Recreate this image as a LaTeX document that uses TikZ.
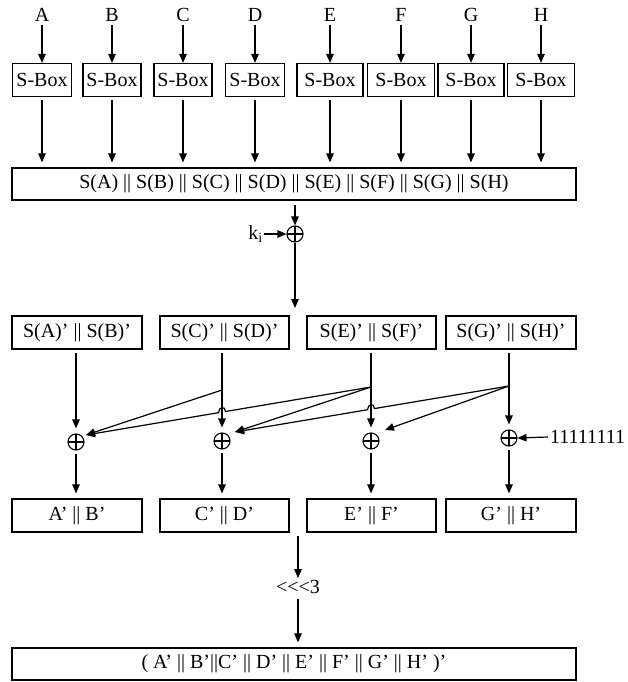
\documentclass[tikz,border=0pt]{standalone}
\usepackage{fontspec}
\setmainfont{Liberation Serif}
\usetikzlibrary{arrows.meta, calc}
\tikzset{
  flow/.style={draw, line width=1.2pt, -{Triangle[length=9pt, width=7.5pt]}},
  % Arrow that stops just short of its target
  flowgap/.style={flow, shorten >=5pt, shorten <=3pt},
  box/.style={draw, line width=1.2pt, inner sep=0pt, minimum height=33pt},
  letter/.style={inner sep=3pt},
  xor/.style={circle, draw, line width=1.1pt, minimum size=16pt, inner sep=0pt,
    path picture={\draw[line width=1.1pt]
      (path picture bounding box.north) -- (path picture bounding box.south)
      (path picture bounding box.west) -- (path picture bounding box.east);}}
}

\begin{document}
\begin{tikzpicture}[x=1pt, y=-1pt, font=\fontsize{20}{24}\selectfont]
  \useasboundingbox (0,0) rectangle (627,682);

  % ---- Concatenated S-box output ------------------------------------------
  \node[box, minimum width=564pt, minimum height=32pt] (Sall) at (294,184)
        {S(A) || S(B) || S(C) || S(D) || S(E) || S(F) || S(G) || S(H)};

  % ---- Inputs and S-boxes -------------------------------------------------
  \foreach \l/\cx/\w in {A/42/59, B/112/58, C/183/58, D/255/59,
                         E/330/66, F/401/67, G/471/66, H/541/67} {
    \node[letter] (L\l) at (\cx,15) {\l};
    \node[box, minimum width=\w pt] (S\l) at (\cx,80) {S-Box};
    \draw[flow] (L\l) -- (S\l);
    \draw[flowgap] (S\l) -- (S\l |- Sall.north);
  }

  % ---- Round key ----------------------------------------------------------
  \node[xor] (Xk) at (295,234) {};
  \node[anchor=east, inner sep=1pt] (ki) at (264,234) {k\textsubscript{i}};
  \draw[flow, shorten <=4pt] (Xk |- Sall.south) -- (Xk);
  \draw[flow] (ki.east) -- (Xk.west);
  \coordinate (split) at (295,308);
  \draw[flow] (Xk) -- (split);

  % ---- Pair boxes ---------------------------------------------------------
  \node[box, minimum width=130pt] (P1) at (77,332.5)    {S(A)’ || S(B)’};
  \node[box, minimum width=129pt] (P2) at (224.5,332.5) {S(C)’ || S(D)’};
  \node[box, minimum width=129pt] (P3) at (371.5,332.5) {S(E)’ || S(F)’};
  \node[box, minimum width=130pt] (P4) at (511,332.5)   {S(G)’ || S(H)’};

  % ---- XOR stage ----------------------------------------------------------
  \node[xor] (X1) at (76,442)  {};
  \node[xor] (X2) at (222,441) {};
  \node[xor] (X3) at (371,441) {};
  \node[xor] (X4) at (509,438) {};
  \draw[flowgap] (X1 |- P1.south) -- (X1);
  \draw[flowgap] (X2 |- P2.south) -- (X2);
  \draw[flowgap] (X3 |- P3.south) -- (X3);
  \draw[flowgap] (X4 |- P4.south) -- (X4);

  % ---- Fan-out junctions --------------------------------------------------
  \coordinate (CDjoin) at (222,390);
  \coordinate (EFjoin) at (371,387);
  \coordinate (GHjoin) at (509,386);
  \coordinate (in1) at (86,435);
  \coordinate (in2) at (235,432);
  \coordinate (in3) at (385,430);
  \draw[flow] (CDjoin) -- (in1);
  \draw[flow] (EFjoin) -- (in2);
  \draw[flow] (GHjoin) -- (in3);

  % long branches hop over the vertical lines
  \coordinate (hop1) at (intersection of EFjoin--in1 and X2--CDjoin);
  \coordinate (hop2) at (intersection of GHjoin--in2 and X3--EFjoin);
  \draw[flow] (EFjoin) -- ($(hop1)!3.5pt!(EFjoin)$)
        .. controls +(0,-6) and +(0,-6) .. ($(hop1)!3.5pt!(in1)$) -- (in1);
  \draw[flow] (GHjoin) -- ($(hop2)!3.5pt!(GHjoin)$)
        .. controls +(0,-6) and +(0,-6) .. ($(hop2)!3.5pt!(in2)$) -- (in2);

  % ---- Constant into the last XOR ----------------------------------------
  \node[anchor=west, inner sep=2pt] (ones) at (548,437) {11111111};
  \draw[flow] (ones.west) -- (X4.east);

  % ---- Outputs ------------------------------------------------------------
  \node[box, minimum width=130pt] (Q1) at (77,515.5)    {A’ || B’};
  \node[box, minimum width=129pt] (Q2) at (224.5,515.5) {C’ || D’};
  \node[box, minimum width=129pt] (Q3) at (371.5,515.5) {E’ || F’};
  \node[box, minimum width=130pt] (Q4) at (511,515.5)   {G’ || H’};
  \draw[flowgap] (X1) -- (X1 |- Q1.north);
  \draw[flowgap] (X2) -- (X2 |- Q2.north);
  \draw[flowgap] (X3) -- (X3 |- Q3.north);
  \draw[flowgap] (X4) -- (X4 |- Q4.north);

  % ---- Rotation and final result ------------------------------------------
  \coordinate (merge) at (298,536);
  \node[inner sep=2pt] (rot) at (298,587) {<\kern0pt<\kern0pt<3};
  \node[box, minimum width=564pt, minimum height=32pt] (Fin) at (294,664)
        {( A’ || B’||C’ || D’ || E’ || F’ || G’ || H’ )’};
  \draw[flow] (merge) -- (rot);
  \draw[flowgap] (rot) -- (rot |- Fin.north);

\end{tikzpicture}
\end{document}
